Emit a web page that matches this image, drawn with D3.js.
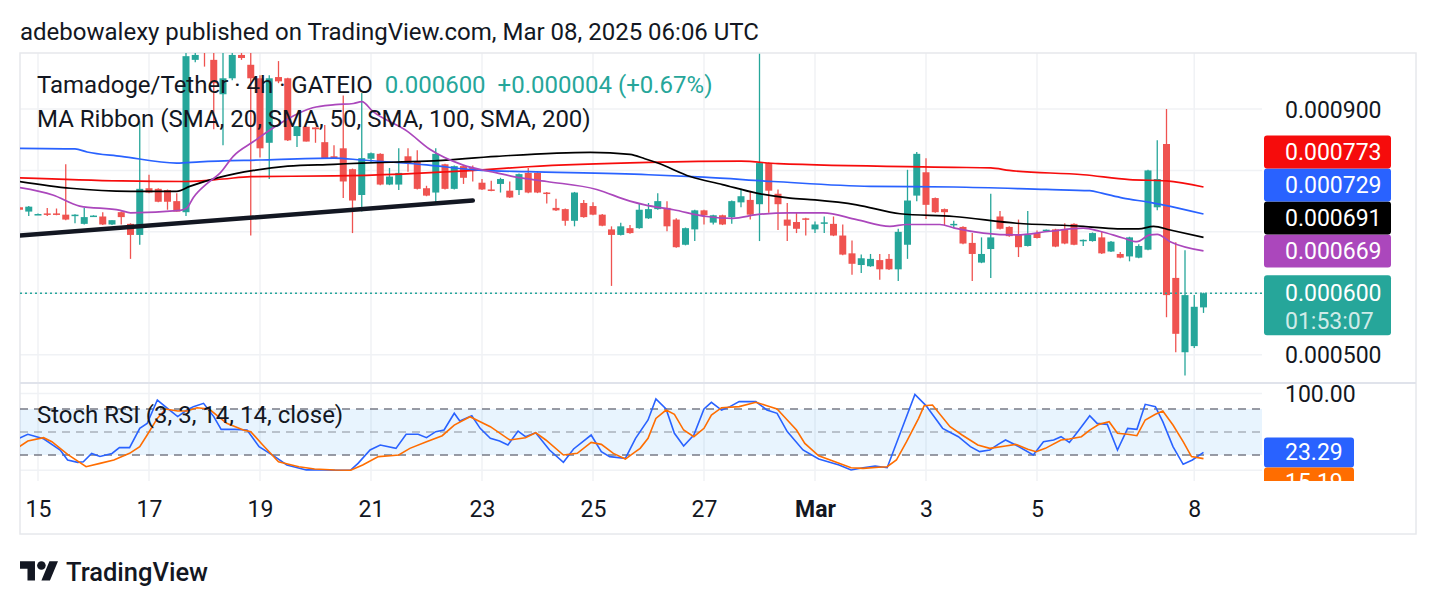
<!DOCTYPE html>
<html>
<head>
<meta charset="utf-8">
<script src="https://cdn.jsdelivr.net/npm/d3@7"></script>
<style>
body { margin: 0; background: #fff; }
svg { display: block; font-family: Roboto, "Noto Sans", sans-serif; }
</style>
</head>
<body>
<svg id="chart" width="1436" height="606"></svg>
<script>
// prices are stored in units of 1e-6 USDT (600 -> 0.000600)
const UNIT = 1e-6;
// candle index of the first entry (0 = Feb 14 20:00, 4h candles)
const firstIndex = -1;

const opens = [740,733,728,730,730,728,726,713,725.5,725,712,732,713,695,771,770,768,750,732,980,
  1003,980,924,950,988,972,950,845,952,950,856,871,870,846,823,836,802,760,819,827,
  777,777,823,815,771,764,810,770,807,804,780,769,778,767,768,796,796,764,739,737,
  718,747,742,728,704,695,706,706,722,737,739,720,679,704,735,715,727,724,748,752,
  745,812,762,720,716,722,704,714.5,713,694,665,646,644,654,656,639,679,759,797,755,
  737,712,708,682,650,672,725,708,695,677,698,701,704,703,713,686,685,691,668,664,
  660,658,671,740,843,625,504,514,577];
const highs = [741,742,730,739,738,810,728.5,739,727,732,719,733,714,880,793,771,769,763,1000,995,
  1010,1000,1000,1000,998,1000,955,955,978,951,872,872,870,874,841,922,803,926,829,828,
  804,836,836,833,775,836,811,808,808,808,786,783,788,782,795,804,797,765,754,738,
  765,752,748,729,709,715,711,747,747,763,750,722,707,736,736,728,728,751,770,766,
  990,813,769,747,732,723,717,725,725,712,686,663,664,664,664,705,801,830,820,756,
  738,718,709,698,691,762,734,709,720,734,702,704,705,714,714,687.5,699,701,685,667,
  692,680,801,849,900,683,670,597,601];
const lows = [735,726,728,726,727,719,714,712,725,711,711,712,656,679,763,748,736,733,726,976,
  969,867,841,947,980,694,821,786,942,848,838,847,845,820,819,755,698,733,812,776,
  776,768,798,769,758,748,769,769,778,782,768,766,764,755,760,763,763,746,734,710,
  709,723,727,709,612,694,697,705,721,736,701,674,678,685,712,712,711,713,740,720,
  685,731,703,685,698,694,698,698,693,662,630,633,643,622,638,620,656,750,721,731,
  710,706,680,620,649,625,704,692,659,676,689,700,675,680,678,677,684,664,667,657,
  652,657,670,735,561,504,466,511,568];
const closes = [736,741,729,728,728,720,728,724,726.5,712,719,724,695,770,764,749,749,733,986,988,
  996,942,950,988,983,950,836,950,945,849,872,847,867,820,820,782,751,820,828,777,
  790,796,812,770,759,827,770,807,788,800,769,767,786,756,794,764,764,762,735,718,
  764,724,728,710,695,709,698,736,737,750,709,675,706,735,727,727,712,750,758,728,
  812,767,745,710,705,720,712,715.5,694,663,648,657,656,639,639,700,751,827,744,732,
  732,713,681,664,664,691,705,693,675,695,690,703.5,676,681,679,687,698,665,684,658,
  691,677,800,786,597,534,597,578,600];

// MA Ribbon, [candle index, price]
const sma20 = [[-1,772],[2.6,760],[5.5,742],[9.9,735],[11,731],[16.4,735],[17.1,739],[17.8,756],[19.3,779],[20.7,796],
  [22.1,823],[24.3,847],[26.4,869],[27.9,883],[30.7,902],[33.1,907],[35.1,909],[36,912],[37.2,896],[40.9,864],
  [43.4,834],[46.9,809],[50.6,796],[52.4,790],[56,782],[61.4,769],[65,750],[66.6,744],[69.7,736],[73.3,725],
  [76.1,722],[78.7,728],[82.3,731],[85.9,731],[89.5,720],[93.1,709],[94.9,712],[98.5,712],[100.1,706],[103.2,698],
  [106.8,695],[110.4,701],[114,706],[115.8,701],[118.3,690],[119.8,684],[121.2,695],[122,696],[123.4,684],[127,669]];
const sma50 = [[-1,782],[4.5,771],[11,766],[16,766],[17.4,774],[20.7,789],[24.3,800],[28,807],[33,810],[36,812],
  [43,815],[50.6,823],[60.7,829.5],[65,826],[66.6,819],[68,812],[71.5,790],[75,777],[78.7,763],[82.3,755],
  [85,752],[89.5,744],[94.2,729.5],[100,725],[106.8,714],[114,709],[117.7,705],[120,705],[121.6,709],[123.4,703],[127,691]];
const sma100 = [[-1,836],[5,835],[6.3,830],[10,823],[16,812],[18.5,814],[25,817],[33,820],[36,817],[43,809],
  [49,800],[54,798],[67,793],[73,789],[80.5,782],[91,774],[100,773],[110,769],[114.7,767],[116,763],
  [118.3,755],[121.2,748],[122.6,744],[127,729]];
const sma200 = [[-1,788],[10,783],[17,782],[21,786],[24,790],[33,791],[49,801],[54,806],[67,813],[77,815],
  [81,811],[100,805],[104,804],[106,800],[114,793],[119,785],[123,783],[127,773]];

// hand drawn support line
const trendLine = [[-1,694],[48,751]];

// Stoch RSI %K and %D, [candle index, value]
const stochK = [[-1,42],[-0.1,47],[1.6,41],[3.4,26.5],[4.2,13.4],[5.3,10.4],[5.9,11.2],[6.8,22],[7.7,18],[9,22],
  [9.8,29.5],[10.9,29.5],[12,54.7],[12.8,61],[13.9,91.6],[15,80.8],[16.1,70],[17.1,78.6],[17.8,83],[18.9,87.3],
  [20,70],[20.8,53.4],[22.3,53.4],[23.6,52.5],[24.9,30.8],[26.6,17.8],[27.9,6.9],[30,0.5],[31.8,0.4],[33.5,0],
  [34.8,0.4],[35.6,9],[36.9,26.5],[38,33],[39.7,28.6],[40.8,47],[42.1,47],[43,42.5],[44,50.4],[44.9,52.5],
  [46,74.3],[46.6,64.3],[47.9,71.2],[48.8,54.7],[49.9,41.7],[50.9,38.2],[51.8,33],[52.9,51.2],[53.7,43.8],[54.8,49],
  [56.3,26.5],[57.8,10.4],[58.9,27.8],[60.8,46],[61.9,24.3],[62.8,17.8],[64.5,15.6],[65.6,41.7],[66.95,65.6],[67.8,92.9],
  [68.9,79.9],[69.8,48.2],[70.8,31.7],[71.9,46],[73,79.9],[73.8,88.6],[74.9,78.6],[75.8,83],[76.8,89.5],[78.6,89.5],
  [79.8,78.6],[80.9,74.3],[82,50.4],[83.7,26.5],[85.4,14.7],[87.6,6.9],[88.9,0.4],[90.2,3.4],[91.5,5.6],[92.8,3.4],
  [95.8,99],[97,84.3],[98.8,54.7],[100.5,43.8],[101.8,30.8],[102.8,24.3],[103.9,26.5],[104.8,33.8],[105.6,39.5],[106.7,33],
  [108.6,19.9],[109.7,37.3],[110.8,39.5],[111.6,43.8],[112.5,36.4],[113.4,50.4],[114.7,71.2],[115.5,61.2],[116.6,59.9],[117.7,26.5],
  [118.8,54.7],[119.8,53.4],[120.7,86],[121.8,83],[122.6,63.4],[123.7,30.8],[124.8,7.8],[125.8,13.4],[127,23.29]];
const stochD = [[-1,30.8],[-0.1,38.2],[1.6,42.5],[2.5,37.3],[4.2,20.8],[6.2,4.7],[7.7,9],[9.2,13.4],[10.9,22.1],[12,30.8],
  [12.8,46],[13.9,67.7],[14.8,79.9],[16.1,77.3],[17.1,77.3],[18.2,81.6],[19.5,79.9],[21.4,61.2],[23.2,52.5],[24,50.4],
  [25.3,33],[27,11.2],[29.2,4.7],[30.9,1.7],[33.1,0.4],[34.8,0],[36.1,6.9],[37.8,17.8],[39.1,19],[40,19.9],
  [41.2,28.6],[43,37.3],[44.7,45.1],[46,59],[47.7,69.9],[49.9,56.9],[52,39.5],[53.7,42.5],[54.8,49],[55.9,39.5],
  [57.8,19.9],[59.3,22.1],[60.8,36.4],[61.9,33.8],[63.2,22.1],[64.5,14.7],[65.6,24.3],[66.1,28.6],[66.95,41.7],[67.8,67.7],
  [68.9,78.6],[69.8,73],[70.8,52.5],[71.9,43.8],[73,54.7],[73.8,72.1],[74.9,81.6],[76.8,83],[78.6,88.6],[79.8,84.3],
  [80.9,79.9],[82,65.6],[83,52.5],[83.9,35.1],[85.4,19],[87.6,9.1],[88.9,3.4],[90.2,2.5],[91.9,3.9],[92.8,4.7],
  [93.8,13.4],[94.9,37.3],[96.2,67.7],[96.8,84.3],[97.7,85.1],[99.6,56.9],[100.9,46],[102.6,33],[103.9,28.6],[105.6,31.7],
  [106.7,33.8],[108,27.3],[108.9,24.3],[109.9,28.6],[111.6,39.5],[112.5,40.8],[113.8,43.8],[114.7,52.5],[115.7,59.9],[116.8,63.4],
  [117.7,48.2],[118.8,46.9],[119.8,45.1],[120.7,65.6],[121.8,73],[122.6,77.3],[123.7,59],[124.8,37.3],[125.7,17.8],[127,15.19]];

// time axis
const tickLabels = ['15','17','19','21','23','25','27','Mar','3','5','8'];
const tickIndex = [1,13,25,37,49,61,73,85,97,109,126];
const priceTicks = [500,600,700,800,900];
const stochTicks = [0,100];
const stochLevels = [80,50,20];

const lastPrice = 600, lastChange = 4, lastPct = 0.67, countdown = '01:53:07';

const up = '#26a69a', down = '#ef5350', textColor = '#131722', gridColor = '#f0f2f5';
const fs = 23;      // axis text
const fsLegend = 24;

const plot = {left: 20, right: 1262};
const pricePane = {top: 53, bottom: 383};
const stochPane = {top: 384, bottom: 481};
const frame = {left: 20, top: 53, right: 1416, bottom: 534};

const svg = d3.select('#chart');

const x = d3.scaleLinear().domain([0, 127]).range([28.75, 1203.5]);
const y = d3.scaleLinear().domain([500, 900]).range([354.7, 109]);
const ys = d3.scaleLinear().domain([0, 100]).range([470.3, 393.6]);
const fmt = v => (v * UNIT).toFixed(6);

const defs = svg.append('defs');
defs.append('clipPath').attr('id', 'clipPrice').append('rect')
    .attr('x', plot.left).attr('y', pricePane.top)
    .attr('width', plot.right - plot.left).attr('height', pricePane.bottom - pricePane.top);
defs.append('clipPath').attr('id', 'clipStoch').append('rect')
    .attr('x', plot.left).attr('y', stochPane.top)
    .attr('width', plot.right - plot.left).attr('height', stochPane.bottom - stochPane.top);
defs.append('clipPath').attr('id', 'clipStochAxis').append('rect')
    .attr('x', plot.right).attr('y', stochPane.top)
    .attr('width', frame.right - plot.right).attr('height', stochPane.bottom - stochPane.top);

//grid
const grid = svg.append('g').attr('class', 'grid');
grid.selectAll('.vgrid').data(tickIndex).enter().append('line')
    .attr('x1', d => x(d)).attr('x2', d => x(d))
    .attr('y1', pricePane.top).attr('y2', stochPane.bottom)
    .attr('stroke', gridColor).attr('stroke-width', 1.5);
grid.selectAll('.hgrid').data(priceTicks).enter().append('line')
    .attr('x1', plot.left).attr('x2', plot.right)
    .attr('y1', d => y(d)).attr('y2', d => y(d))
    .attr('stroke', gridColor).attr('stroke-width', 1.5);
grid.selectAll('.sgrid').data(stochTicks).enter().append('line')
    .attr('x1', plot.left).attr('x2', plot.right)
    .attr('y1', d => ys(d)).attr('y2', d => ys(d))
    .attr('stroke', gridColor).attr('stroke-width', 1.5);

// frame and pane separator
svg.append('rect')
    .attr('x', frame.left).attr('y', frame.top)
    .attr('width', frame.right - frame.left).attr('height', frame.bottom - frame.top)
    .attr('fill', 'none').attr('stroke', '#e6e8ec').attr('stroke-width', 1.5);
svg.append('line')
    .attr('x1', frame.left).attr('x2', frame.right)
    .attr('y1', pricePane.bottom).attr('y2', pricePane.bottom)
    .attr('stroke', '#e0e3eb').attr('stroke-width', 2);

// stoch band + levels
const stochG = svg.append('g').attr('clip-path', 'url(#clipStoch)');
stochG.append('rect')
    .attr('x', plot.left).attr('width', plot.right - plot.left)
    .attr('y', ys(80)).attr('height', ys(20) - ys(80))
    .attr('fill', 'rgba(33,150,243,0.1)');
stochG.selectAll('.level').data(stochLevels).enter().append('line')
    .attr('x1', plot.left).attr('x2', plot.right)
    .attr('y1', d => ys(d)).attr('y2', d => ys(d))
    .attr('stroke', d => d === 50 ? 'rgba(120,123,134,0.55)' : '#787b86')
    .attr('stroke-width', 1.5)
    .attr('stroke-dasharray', '8,6');

// candles
const candles = opens.map((o, k) => ({i: firstIndex + k, o: o, h: highs[k], l: lows[k], c: closes[k]}));
const priceG = svg.append('g').attr('clip-path', 'url(#clipPrice)');
priceG.selectAll('.wick').data(candles).enter().append('line')
    .attr('x1', d => x(d.i)).attr('x2', d => x(d.i))
    .attr('y1', d => y(d.h)).attr('y2', d => y(d.l))
    .attr('stroke', d => d.c >= d.o ? up : down)
    .attr('stroke-width', 1.3);
priceG.selectAll('.body').data(candles).enter().append('rect')
    .attr('x', d => x(d.i) - 3.5).attr('width', 7)
    .attr('y', d => y(Math.max(d.o, d.c)))
    .attr('height', d => Math.max(1.5, Math.abs(y(d.o) - y(d.c))))
    .attr('fill', d => d.c >= d.o ? up : down);

//MA ribbon
const maLine = d3.line().x(d => x(d[0])).y(d => y(d[1])).curve(d3.curveMonotoneX);
const maSeries = [
    {data: sma200, color: '#f60c0c'},
    {data: sma100, color: '#2962ff'},
    {data: sma50, color: '#000000'},
    {data: sma20, color: '#ab47bc'}
];
priceG.selectAll('.ma').data(maSeries).enter().append('path')
    .attr('d', d => maLine(d.data))
    .attr('fill', 'none')
    .attr('stroke', d => d.color)
    .attr('stroke-width', 1.7);

priceG.append('path')
    .attr('d', d3.line().x(d => x(d[0])).y(d => y(d[1]))(trendLine))
    .attr('stroke', textColor).attr('stroke-width', 4.5)
    .attr('stroke-linecap', 'round').attr('fill', 'none');

// last price dotted line
svg.append('line')
    .attr('x1', plot.left).attr('x2', plot.right)
    .attr('y1', y(lastPrice)).attr('y2', y(lastPrice))
    .attr('stroke', up).attr('stroke-width', 1.5)
    .attr('stroke-dasharray', '2,3');

// legends
const legend = svg.append('g').style('font-size', fsLegend + 'px');
const l1 = legend.append('text').attr('x', 37).attr('y', 92.5).attr('fill', textColor);
l1.append('tspan').text('Tamadoge/Tether · 4h · GATEIO');
l1.append('tspan').attr('dx', 12).attr('fill', up).text(fmt(lastPrice));
l1.append('tspan').attr('dx', 12).attr('fill', up)
    .text(`+${fmt(lastChange)} (+${lastPct.toFixed(2)}%)`);
legend.append('text').attr('x', 37).attr('y', 126.5).attr('fill', textColor)
    .text('MA Ribbon (SMA, 20, SMA, 50, SMA, 100, SMA, 200)');

// stoch lines
const stLine = d3.line().x(d => x(d[0])).y(d => ys(d[1]));
stochG.append('path').attr('d', stLine(stochK))
    .attr('fill', 'none').attr('stroke', '#2962ff').attr('stroke-width', 1.6);
stochG.append('path').attr('d', stLine(stochD))
    .attr('fill', 'none').attr('stroke', '#ff6d00').attr('stroke-width', 1.6);
svg.append('text').attr('x', 37).attr('y', 423).attr('fill', textColor)
    .style('font-size', fsLegend + 'px')
    .text('Stoch RSI (3, 3, 14, 14, close)');

// price scale labels
const labelH = 33;
const maLabels = maSeries.map(s => ({v: s.data[s.data.length - 1][1], color: s.color}))
    .sort((a, b) => a.v - b.v);
let prev = null;
maLabels.forEach(d => {
    d.cy = prev === null ? y(d.v) : Math.min(y(d.v), prev - labelH);
    prev = d.cy;
});
const lastBox = {top: y(lastPrice) - 18, bottom: y(lastPrice) + 42};
const boxes = maLabels.map(d => ({top: d.cy - labelH / 2, bottom: d.cy + labelH / 2})).concat([lastBox]);
const hidden = v => boxes.some(b => y(v) > b.top - 10 && y(v) < b.bottom + 10);

const priceAxis = svg.append('g')
    .attr('transform', `translate(1285,0)`)
    .call(d3.axisRight(y).tickValues(priceTicks.filter(v => !hidden(v))).tickFormat(fmt).tickSize(0).tickPadding(0));
priceAxis.select('.domain').remove();
priceAxis.selectAll('text')
    .attr('x', 0).attr('dy', '0.35em')
    .style('font-size', fs + 'px').style('font-family', 'Roboto, sans-serif')
    .attr('fill', textColor);

const lab = svg.append('g').style('font-size', fs + 'px');
lab.selectAll('.malab').data(maLabels).enter().append('rect')
    .attr('x', 1264).attr('width', 127)
    .attr('y', d => d.cy - labelH / 2).attr('height', labelH)
    .attr('rx', 3).attr('fill', d => d.color);
lab.selectAll('.matxt').data(maLabels).enter().append('text')
    .attr('x', 1285).attr('y', d => d.cy).attr('dy', '0.35em')
    .attr('fill', '#fff').text(d => fmt(d.v));
lab.append('rect').attr('x', 1264).attr('width', 127)
    .attr('y', lastBox.top).attr('height', lastBox.bottom - lastBox.top)
    .attr('rx', 3).attr('fill', up);
lab.append('text').attr('x', 1285).attr('y', y(lastPrice)).attr('dy', '0.35em')
    .attr('fill', '#fff').text(fmt(lastPrice));
lab.append('text').attr('x', 1285).attr('y', y(lastPrice) + 28).attr('dy', '0.35em')
    .attr('fill', 'rgba(255,255,255,0.8)').text(countdown);

// stoch scale labels
const stH = 30;
const stLabels = [
    {v: stochK[stochK.length - 1][1], color: '#2962ff'},
    {v: stochD[stochD.length - 1][1], color: '#ff6d00'}
].sort((a, b) => b.v - a.v);
prev = null;
stLabels.forEach(d => {
    d.cy = prev === null ? ys(d.v) : Math.max(ys(d.v), prev + stH);
    prev = d.cy;
});
const stochAxis = svg.append('g')
    .attr('transform', `translate(1285,0)`)
    .call(d3.axisRight(ys).tickValues(stochTicks.filter(v => !stLabels.some(d => Math.abs(ys(v) - d.cy) < stH)))
        .tickFormat(d3.format('.2f')).tickSize(0).tickPadding(0));
stochAxis.select('.domain').remove();
stochAxis.selectAll('text')
    .attr('x', 0).attr('dy', '0.35em')
    .style('font-size', fs + 'px').style('font-family', 'Roboto, sans-serif')
    .attr('fill', textColor);
const stLab = svg.append('g').attr('clip-path', 'url(#clipStochAxis)').style('font-size', fs + 'px');
stLab.selectAll('rect').data(stLabels).enter().append('rect')
    .attr('x', 1264).attr('width', 90)
    .attr('y', d => d.cy - stH / 2).attr('height', stH)
    .attr('rx', 3).attr('fill', d => d.color);
stLab.selectAll('text').data(stLabels).enter().append('text')
    .attr('x', 1285).attr('y', d => d.cy).attr('dy', '0.35em')
    .attr('fill', '#fff').text(d => d.v.toFixed(2));

// time axis
const timeAxis = svg.append('g')
    .attr('transform', 'translate(0,517)')
    .call(d3.axisBottom(x).tickValues(tickIndex).tickFormat((d, k) => tickLabels[k]).tickSize(0).tickPadding(0));
timeAxis.select('.domain').remove();
timeAxis.selectAll('text')
    .attr('y', 0).attr('dy', 0)
    .style('font-size', fs + 'px').style('font-family', 'Roboto, sans-serif')
    .style('font-weight', (d, k) => tickLabels[k] === 'Mar' ? 700 : 400)
    .attr('fill', textColor);

// header and footer
svg.append('text').attr('x', 20).attr('y', 40).attr('fill', textColor)
    .style('font-size', '24px')
    .text('adebowalexy published on TradingView.com, Mar 08, 2025 06:06 UTC');

const logo = svg.append('g').attr('transform', 'translate(20,557) scale(1.07)').attr('fill', textColor);
logo.append('path').attr('d', 'M14 22H7V11H0V4h14v18zM28 22h-8l7.5-18h8L28 22z');
logo.append('circle').attr('cx', 20).attr('cy', 8).attr('r', 4);
svg.append('text').attr('x', 66).attr('y', 581).attr('fill', textColor)
    .style('font-size', '25.5px').style('font-weight', 500)
    .text('TradingView');
</script>
</body>
</html>
